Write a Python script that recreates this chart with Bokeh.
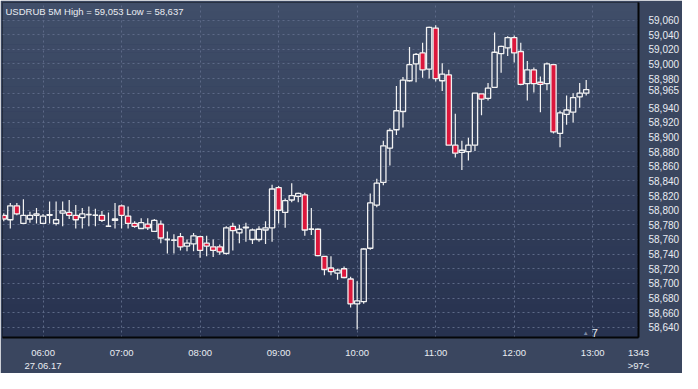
import pandas as pd
from bokeh.plotting import figure
from bokeh.models import (Range1d, FixedTicker, DatetimeTickFormatter,
                          NumeralTickFormatter, Label)
from bokeh.embed import file_html
from bokeh.resources import INLINE

# ---------------- data (USDRUB, 5-minute candles, 27.06.17 05:30 .. 12:55) ----------------
times = pd.date_range("2017-06-27 05:30", periods=90, freq="5min")

open_ = [58793, 58787, 58806, 58782, 58788, 58793, 58782, 58793, 58782, 58796,
         58797, 58793, 58790, 58794, 58793, 58793, 58778, 58786, 58806, 58792,
         58782, 58775, 58781, 58771, 58781, 58760, 58759, 58764, 58751, 58754,
         58764, 58755, 58750, 58750, 58741, 58778, 58769, 58776, 58760, 58760,
         58773, 58776, 58831, 58797, 58814, 58819, 58821, 58774, 58774, 58737,
         58721, 58714, 58720, 58706, 58672, 58675, 58748, 58807, 58838, 58885,
         58910, 58935, 58977, 59000, 59015, 58993, 59049, 58977, 58985, 58889,
         58879, 58880, 58889, 58959, 58953, 58968, 59014, 59022, 59036, 59017,
         58973, 58992, 58975, 58973, 58999, 58905, 58931, 58934, 58955, 58960]
high = [58796, 58810, 58810, 58815, 58798, 58803, 58795, 58812, 58812, 58812,
        58814, 58807, 58803, 58805, 58802, 58799, 58797, 58810, 58808, 58805,
        58785, 58789, 58789, 58788, 58786, 58771, 58767, 58769, 58760, 58769,
        58765, 58765, 58760, 58753, 58778, 58783, 58780, 58783, 58775, 58778,
        58785, 58835, 58833, 58816, 58837, 58824, 58824, 58803, 58775, 58737,
        58737, 58720, 58723, 58709, 58703, 58748, 58823, 58843, 58895, 58912,
        58970, 58982, 59023, 59015, 59029, 59051, 59053, 59001, 58992, 58932,
        58895, 58899, 58960, 58959, 58974, 59043, 59025, 59038, 59039, 59029,
        59004, 58995, 58983, 59002, 58999, 58936, 58957, 58960, 58974, 58978]
low = [58785, 58775, 58793, 58782, 58783, 58782, 58782, 58782, 58779, 58778,
       58788, 58775, 58775, 58778, 58778, 58784, 58778, 58775, 58775, 58775,
       58776, 58775, 58773, 58771, 58755, 58741, 58741, 58745, 58744, 58744,
       58735, 58737, 58736, 58739, 58739, 58745, 58755, 58757, 58754, 58757,
       58754, 58757, 58782, 58776, 58811, 58811, 58765, 58766, 58737, 58711,
       58711, 58705, 58707, 58667, 58637, 58672, 58746, 58804, 58834, 58861,
       58903, 58913, 58976, 58975, 58981, 58980, 58976, 58963, 58889, 58872,
       58855, 58868, 58881, 58930, 58950, 58967, 58988, 59011, 59002, 58971,
       58950, 58961, 58934, 58964, 58905, 58886, 58917, 58920, 58940, 58957]
close = [58788, 58806, 58795, 58793, 58793, 58795, 58792, 58794, 58787, 58799,
         58793, 58787, 58795, 58794, 58793, 58786, 58778, 58788, 58793, 58782,
         58778, 58783, 58776, 58786, 58762, 58760, 58759, 58750, 58755, 58765,
         58745, 58751, 58745, 58743, 58776, 58772, 58774, 58777, 58773, 58774,
         58776, 58829, 58800, 58813, 58820, 58823, 58773, 58774, 58738, 58719,
         58716, 58718, 58708, 58672, 58676, 58747, 58810, 58837, 58888, 58909,
         58936, 58978, 58999, 59013, 58992, 59050, 58980, 58986, 58889, 58878,
         58882, 58889, 58960, 58952, 58967, 59016, 59024, 59036, 59015, 58972,
         58992, 58973, 58972, 59000, 58907, 58933, 58937, 58954, 58960, 58965]

hour_ticks = ["06:00", "07:00", "08:00", "09:00", "10:00", "11:00", "12:00", "13:00"]
price_ticks = list(range(58640, 59061, 20))
title_text = "USDRUB 5M High = 59,053 Low = 58,637"
date_text = "27.06.17"
bars_count = "1343"
bars_visible = ">97<"
last_price = close[-1]

# ---------------- styling ----------------
BG_TOP = (64, 78, 105)
BG_BOT = (39, 50, 79)
BORDER = "#3a465f"
TXT = "#e9ecf2"
RED = "#dc173c"
WHITE = "#f2f2f2"
GRID = "#5c6987"
FONT = "Liberation Sans"
W, H = 682, 373
ML, MT, MR, MB = 2, 2, 41, 27

x_start = pd.Timestamp("2017-06-27 05:29:02")
x_end = pd.Timestamp("2017-06-27 13:34:57")
y_start, y_end = 58626, 59084

def ms(ts):
    return ts.value / 1e6

p = figure(width=W, height=H, output_backend="svg", toolbar_location=None,
           x_axis_type="datetime", y_axis_location="right",
           x_range=Range1d(ms(x_start), ms(x_end)), y_range=Range1d(y_start, y_end),
           min_border_left=ML, min_border_top=MT, min_border_right=MR, min_border_bottom=MB)
p.border_fill_color = BORDER
p.background_fill_color = "#333f5c"
p.outline_line_color = "#10141c"
p.outline_line_width = 1

# vertical gradient of the plot background (decoration)
nb = 40
step = (y_end - y_start) / nb
for i in range(nb):
    f = i / (nb - 1)
    c = tuple(int(round(BG_BOT[k] + (BG_TOP[k] - BG_BOT[k]) * f)) for k in range(3))
    p.quad(left=ms(x_start) - 1e7, right=ms(x_end) + 1e7,
           bottom=(y_start + i * step) if i else y_start - 50,
           top=y_start + (i + 1) * step + (50 if i == nb - 1 else 0),
           fill_color="#%02x%02x%02x" % c, line_color=None, level="image")

# ---------------- axes & grid ----------------
tick_ms = [ms(pd.Timestamp("2017-06-27 " + h)) for h in hour_ticks]
corner_tick = ms(x_end) - 1.0
p.xaxis.ticker = FixedTicker(ticks=tick_ms + [corner_tick])
p.xgrid.ticker = FixedTicker(ticks=tick_ms)
p.xaxis.major_label_overrides = {tick_ms[0]: hour_ticks[0] + "\n" + date_text,
                                 corner_tick: bars_count + "\n" + bars_visible}

axis_prices = [v for v in price_ticks if abs(v - last_price) > 10] + [last_price]
p.yaxis.ticker = FixedTicker(ticks=axis_prices)
p.ygrid.ticker = FixedTicker(ticks=price_ticks)
for g in (p.xgrid, p.ygrid):
    g.grid_line_color = GRID
    g.grid_line_dash = "2 3"
    g.grid_line_width = 1

p.xaxis.formatter = DatetimeTickFormatter(hours="%H:%M", minutes="%H:%M", hourmin="%H:%M",
                                          days="%H:%M", minsec="%H:%M")
p.yaxis.formatter = NumeralTickFormatter(format="0,0")
for ax in (p.xaxis, p.yaxis):
    ax.axis_line_color = "#050608"
    ax.axis_line_width = 2
    ax.major_tick_line_color = None
    ax.minor_tick_line_color = None
    ax.major_label_text_color = TXT
    ax.major_label_text_font = FONT
p.yaxis.major_label_text_font_size = "10px"
p.xaxis.major_label_text_font_size = "9.5px"
p.yaxis.major_label_standoff = 4
p.xaxis.major_label_standoff = 3

# ---------------- candles ----------------
t = list(times)
up = [c >= o for o, c in zip(open_, close)]
body_top = [max(o, c) for o, c in zip(open_, close)]
body_bot = [min(o, c) for o, c in zip(open_, close)]

p.segment(x0=t, y0=body_top, x1=t, y1=high, line_color=WHITE, line_width=1.2)
p.segment(x0=t, y0=body_bot, x1=t, y1=low, line_color=WHITE, line_width=1.2)

w = 4 * 60 * 1000
tu = [x for x, u in zip(t, up) if u]
td = [x for x, u in zip(t, up) if not u]
p.vbar(x=tu, width=w, top=[v for v, u in zip(body_top, up) if u],
       bottom=[v for v, u in zip(body_bot, up) if u],
       fill_alpha=0, line_color=WHITE, line_width=1.3)
p.vbar(x=td, width=w, top=[v for v, u in zip(body_top, up) if not u],
       bottom=[v for v, u in zip(body_bot, up) if not u],
       fill_color=RED, line_color=WHITE, line_width=1.3)
half = pd.Timedelta(milliseconds=w / 2)
dj = [(x, o) for x, o, c in zip(t, open_, close) if abs(c - o) < 1]
p.segment(x0=[x - half for x, _ in dj], y0=[o for _, o in dj],
          x1=[x + half for x, _ in dj], y1=[o for _, o in dj],
          line_color=WHITE, line_width=1.5)

# ---------------- texts inside the frame ----------------
def lab(**kw):
    base = dict(text_color=TXT, text_font=FONT, text_font_size="9.5px")
    base.update(kw)
    p.add_layout(Label(**base))

lab(x=ms(x_start), y=y_end, x_offset=3, y_offset=-3, text=title_text, text_baseline="top")
lab(x=tick_ms[-1], y=y_start, x_offset=-1, y_offset=1, text="7",
    text_baseline="bottom", text_font_size="11px")
lab(x=tick_ms[-1], y=y_start, x_offset=-10, y_offset=2, text="\u25B2",
    text_baseline="bottom", text_color="#7d8aa3", text_font_size="6px")

open("out.html", "w").write(file_html(p, INLINE))
